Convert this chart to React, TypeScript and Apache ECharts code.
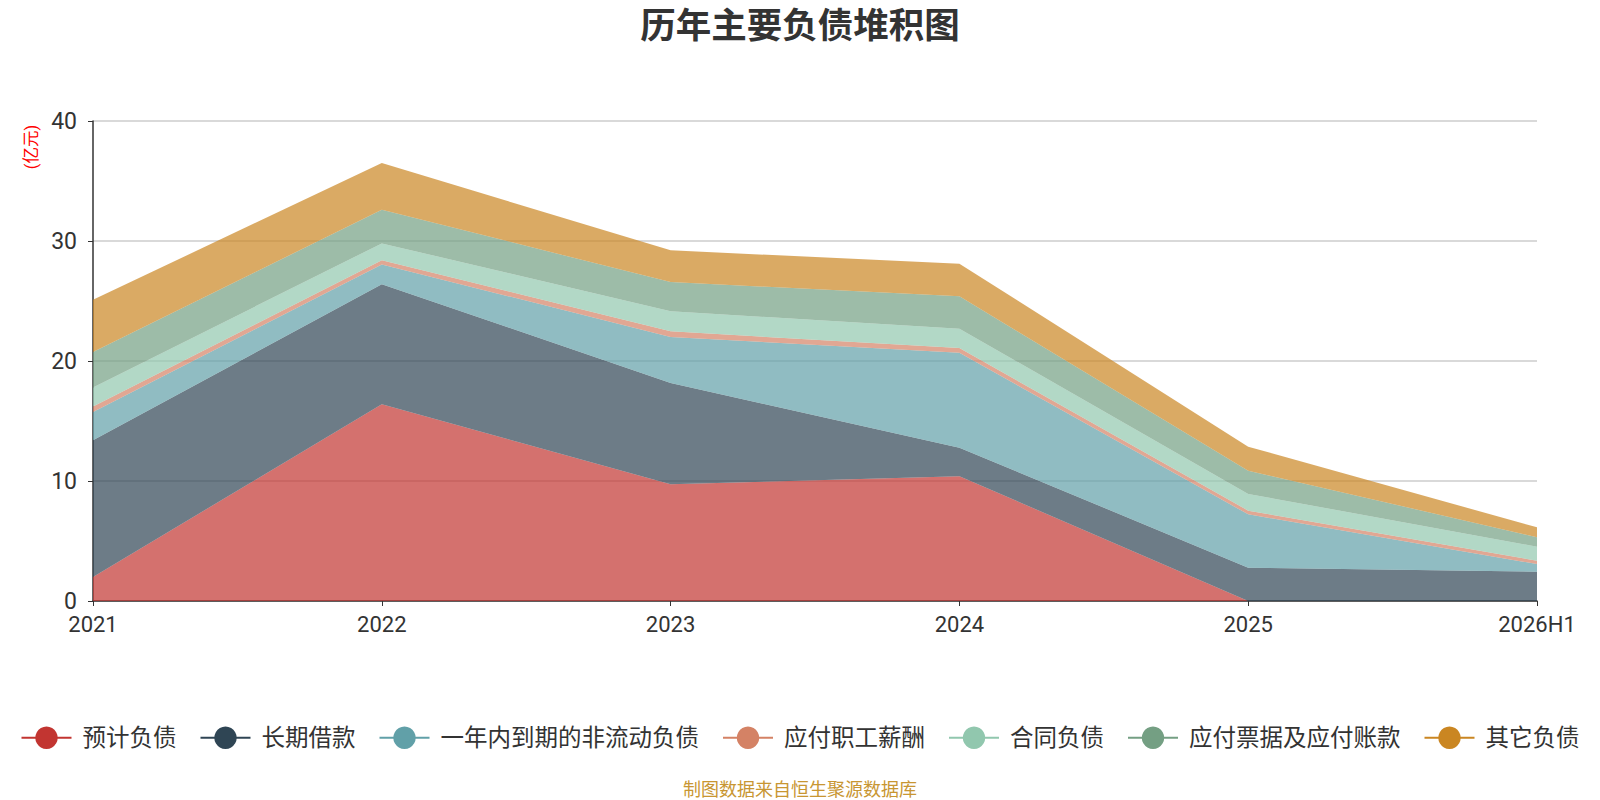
import React, { useEffect, useRef } from 'react';
import * as echarts from 'echarts';

const years = ['2021', '2022', '2023', '2024', '2025', '2026H1'];

const provisions = [2.0, 16.4, 9.72, 10.39, 0, 0];
const longLoans = [11.4, 10.0, 8.45, 2.39, 2.78, 2.44];
const currentNonCurrent = [2.35, 1.65, 3.83, 7.91, 4.44, 0.64];
const payroll = [0.45, 0.35, 0.47, 0.39, 0.31, 0.28];
const contractLiab = [1.6, 1.4, 1.67, 1.61, 1.39, 1.17];
const notesPayable = [2.95, 2.8, 2.44, 2.7, 1.94, 0.78];
const otherLiab = [4.35, 3.9, 2.64, 2.72, 2.0, 0.83];

const seriesNames = ['预计负债', '长期借款', '一年内到期的非流动负债', '应付职工薪酬', '合同负债', '应付票据及应付账款', '其它负债'];
const seriesData = [provisions, longLoans, currentNonCurrent, payroll, contractLiab, notesPayable, otherLiab];
const colors = ['#c23531', '#2f4554', '#61a0a8', '#d48265', '#91c7ae', '#749f83', '#ca8622'];

const FONT = "Roboto, 'Noto Sans CJK SC', sans-serif";

export default function App() {
  const chartRef = useRef<HTMLDivElement>(null);

  useEffect(() => {
    if (!chartRef.current) return;
    const chart = echarts.init(chartRef.current, null, { renderer: 'svg' });

    chart.setOption({
      animation: false,
      color: colors,
      textStyle: { fontFamily: FONT },
      title: {
        text: '历年主要负债堆积图',
        left: 'center',
        top: 3,
        textStyle: { fontSize: 35.5, fontWeight: 'bold', color: '#333', fontFamily: FONT }
      },
      legend: {
        data: seriesNames,
        left: 'center',
        top: 721,
        itemWidth: 50,
        itemHeight: 28,
        itemGap: 23,
        lineStyle: { width: 2 },
        textStyle: { fontSize: 23.5, color: '#333', padding: [0, 0, 0, 6] }
      },
      grid: { left: 93, right: 63, top: 121, bottom: 199, containLabel: false },
      xAxis: {
        type: 'category',
        data: years,
        boundaryGap: false,
        axisLine: { lineStyle: { color: '#333', width: 1.5 } },
        axisTick: { show: true, length: 5 },
        axisLabel: { color: '#333', fontSize: 22, margin: 12 }
      },
      yAxis: {
        type: 'value',
        min: 0,
        max: 40,
        interval: 10,
        axisLine: { show: true, lineStyle: { color: '#333', width: 1.5 } },
        axisTick: { show: true, length: 5 },
        axisLabel: { color: '#333', fontSize: 23, margin: 16 },
        splitLine: { lineStyle: { color: '#ccc', width: 1.5 } }
      },
      graphic: [
        {
          type: 'text',
          x: 31,
          y: 147,
          rotation: Math.PI / 2,
          style: {
            text: '(亿元)',
            fill: '#ff0000',
            fontSize: 16.5,
            fontFamily: FONT,
            align: 'center',
            verticalAlign: 'middle'
          }
        },
        {
          type: 'text',
          x: 800,
          y: 789,
          style: {
            text: '制图数据来自恒生聚源数据库',
            fill: '#c89632',
            fontSize: 18,
            fontFamily: FONT,
            align: 'center',
            verticalAlign: 'middle'
          }
        }
      ],
      series: seriesNames.map((name, i) => ({
        name,
        type: 'line',
        stack: 'total',
        data: seriesData[i],
        symbol: 'circle',
        showSymbol: false,
        lineStyle: { width: 0 },
        areaStyle: { opacity: 0.7 }
      }))
    });

    return () => {
      chart.dispose();
    };
  }, []);

  return (
    <div
      ref={chartRef}
      style={{ position: 'fixed', left: 0, top: 0, width: 1600, height: 800, background: '#fff' }}
    />
  );
}
